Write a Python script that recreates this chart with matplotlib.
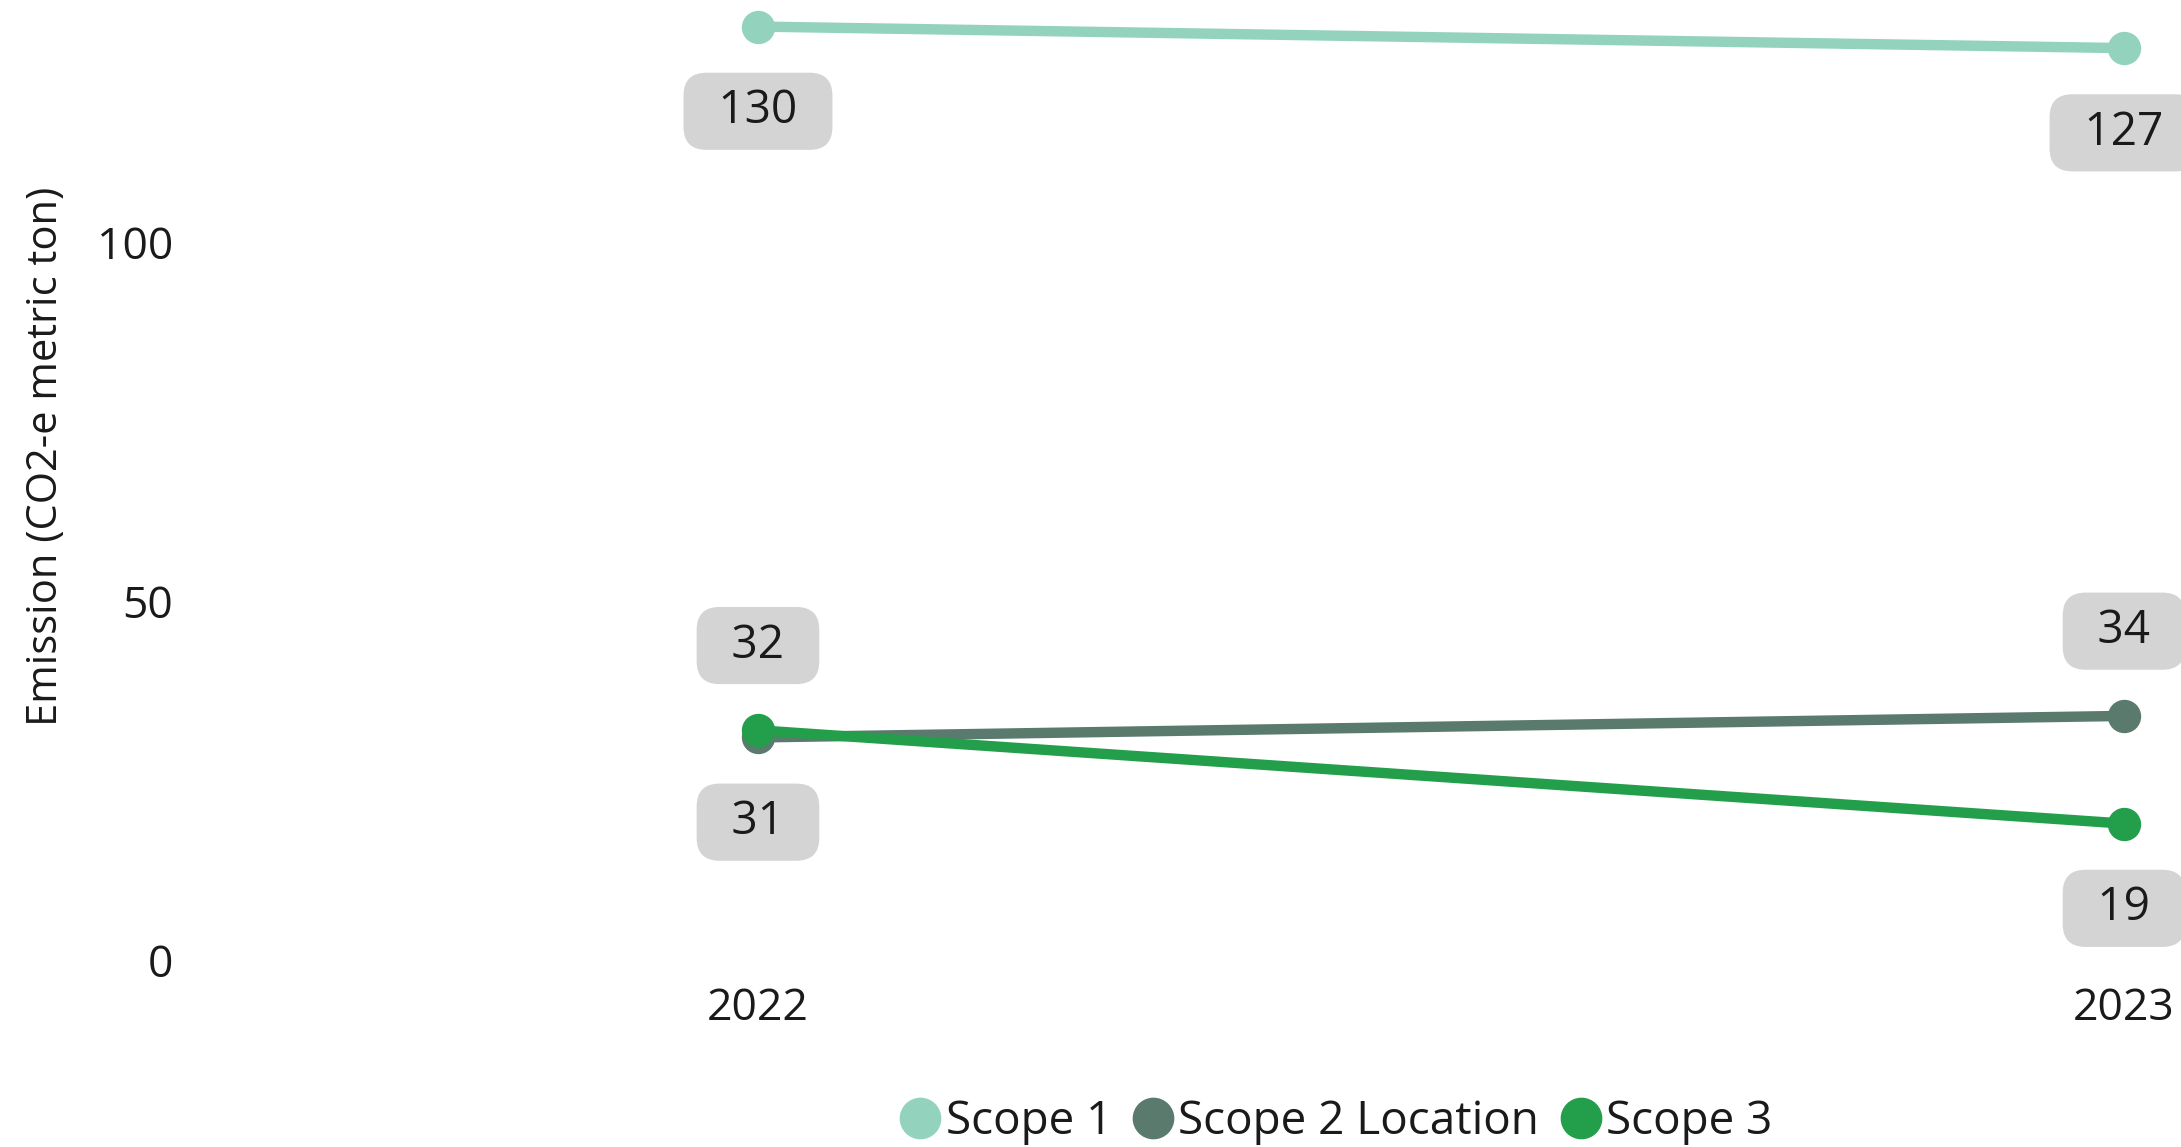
import matplotlib.pyplot as plt

# chart input
years = ["2022", "2023"]
series_names = ["Scope 1", "Scope 2 Location", "Scope 3"]
scope1 = [130, 127]
scope2_location = [31, 34]
scope3 = [32, 19]
series_values = [scope1, scope2_location, scope3]
colors = ["#93D3BE", "#5A7A6E", "#239E4B"]
# which side of the point the data label sits on (+1 above, -1 below)
label_side = [[-1, -1], [-1, 1], [1, -1]]

plt.rcParams['font.family'] = ['Open Sans', 'DejaVu Sans']

fig = plt.figure(figsize=(21.81, 11.47), dpi=100)
ax = fig.add_axes([0.0871, 0.163, 0.9129, 0.837])

x = list(range(len(years)))
for name, vals, col, sides in zip(series_names, series_values, colors, label_side):
    ax.plot(x, vals, color=col, linewidth=7.5, marker='o', markersize=23,
            solid_capstyle='round', label=name)
    for xi, v, s in zip(x, vals, sides):
        ax.annotate(" \u2009%d\u2009 " % v, (xi, v), xytext=(0, 61 * s),
                    textcoords='offset points',
                    ha='center', va='center', fontsize=33, color='#1a1a1a',
                    annotation_clip=False,
                    bbox=dict(boxstyle='round,pad=0.34,rounding_size=0.5',
                              fc='#D4D4D4', ec='none'))

# axis ranges
ax.set_xlim(-0.4158, 1.0417)
ax.set_ylim(0, 133.7)
ax.set_xticks(x)
ax.set_xticklabels(years)
ax.set_yticks([0, 50, 100])

ax.tick_params(axis='both', length=0, labelsize=32, colors='#1a1a1a')
ax.tick_params(axis='y', pad=12)
ax.tick_params(axis='x', pad=19)
for sp in ax.spines.values():
    sp.set_visible(False)

fig.text(46 / 2181, 0.602, "Emission (CO2-e metric ton)", rotation=90,
         ha='center', va='center', fontsize=30, color='#1a1a1a')

handles = [plt.Line2D([], [], linestyle='none', marker='o', markersize=29,
                      color=c) for c in colors]
fig.legend(handles, series_names, loc='center', bbox_to_anchor=(0.612, 0.022),
           ncol=3, frameon=False, fontsize=33, handletextpad=0.05,
           columnspacing=0.4, handlelength=1.0, labelcolor='#1a1a1a')

fig.savefig("out.png", dpi=100)
